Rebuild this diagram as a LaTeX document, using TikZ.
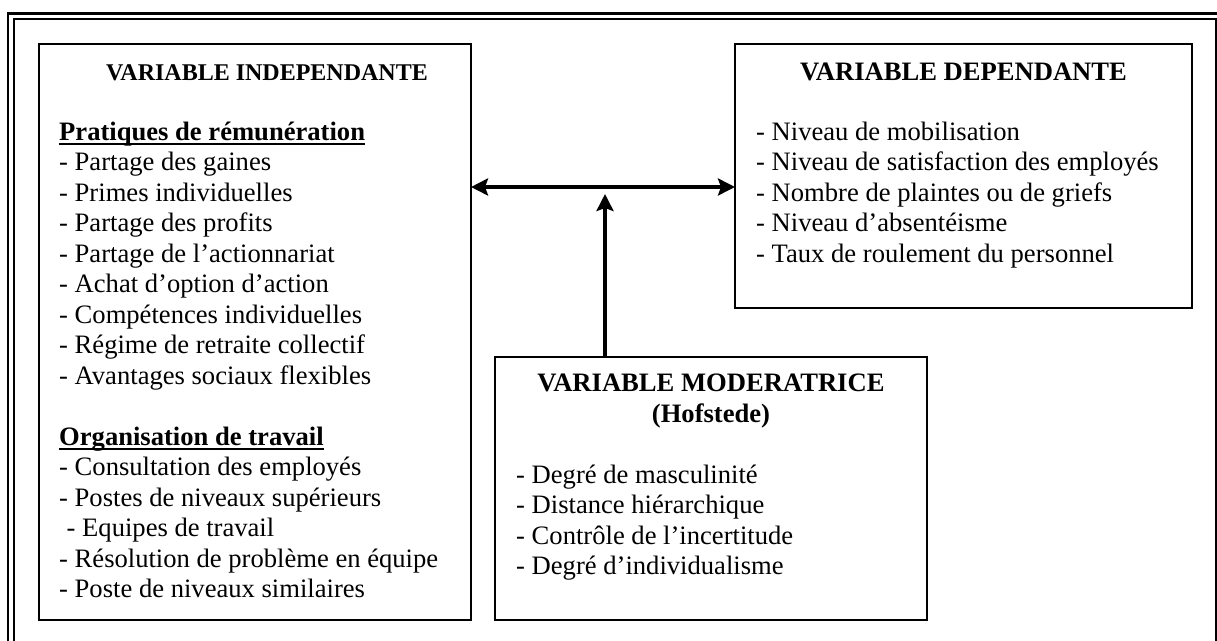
\documentclass[tikz,border=0pt]{standalone}
\usepackage{fontspec}
\setmainfont{Liberation Serif}
\usetikzlibrary{arrows.meta}
\newcommand{\ulx}[1]{\setbox0\hbox{#1}\rlap{\rule[-5pt]{\wd0}{1.8pt}}\box0}
\begin{document}
\begin{tikzpicture}[x=1pt,y=-1pt,
  box/.style={draw, line width=1.6pt, inner sep=0pt, outer sep=0pt, anchor=north west},
  ln/.style={anchor=base west, inner sep=0pt, font=\fontsize{26.6}{30.5}\selectfont},
  ttl/.style={anchor=base, inner sep=0pt, font=\fontsize{26.6}{30.5}\selectfont\bfseries},
  conn/.style={line width=4.5pt}]
\useasboundingbox (0,0) rectangle (1217,640);
\begin{scope}
\clip (0,0) rectangle (1217,640);
\draw[line width=2.2pt] (8,13.5) rectangle (1221,660);
\draw[line width=2pt] (13.5,18.5) rectangle (1215.5,655);
\end{scope}
% boxes
\node[box, minimum width=432pt, minimum height=576pt] (ind) at (39,44) {};
\node[box, minimum width=457pt, minimum height=264pt] (dep) at (735,44) {};
\node[box, minimum width=432pt, minimum height=263pt] (mod) at (495,357) {};
% independent variable
\node[ttl, font=\fontsize{24}{30.5}\selectfont\bfseries] (it) at (267,80) {VARIABLE INDEPENDANTE};
\node[ln] (i0) at (59,140) {\bfseries\ulx{Pratiques de rémunération}};
\node[ln] (i1) at (59,170.5) {- Partage des gaines};
\node[ln] (i2) at (59,201) {- Primes individuelles};
\node[ln] (i3) at (59,231.5) {- Partage des profits};
\node[ln] (i4) at (59,262) {- Partage de l’actionnariat};
\node[ln] (i5) at (59,292.5) {- Achat d’option d’action};
\node[ln] (i6) at (59,323) {- Compétences individuelles};
\node[ln] (i7) at (59,353.5) {- Régime de retraite collectif};
\node[ln] (i8) at (59,384) {- Avantages sociaux flexibles};
\node[ln] (i10) at (59,445) {\bfseries\ulx{Organisation de travail}};
\node[ln] (i11) at (59,475.5) {- Consultation des employés};
\node[ln] (i12) at (59,506) {- Postes de niveaux supérieurs};
\node[ln] (i13) at (66.5,536.5) {- Equipes de travail};
\node[ln] (i14) at (59,567) {- Résolution de problème en équipe};
\node[ln] (i15) at (59,597.5) {- Poste de niveaux similaires};
% dependent variable
\node[ttl] (dt) at (963.5,80) {VARIABLE DEPENDANTE};
\node[ln] (d1) at (756,140) {- Niveau de mobilisation};
\node[ln] (d2) at (756,170.5) {- Niveau de satisfaction des employés};
\node[ln] (d3) at (756,201) {- Nombre de plaintes ou de griefs};
\node[ln] (d4) at (756,231.5) {- Niveau d’absentéisme};
\node[ln] (d5) at (756,262) {- Taux de roulement du personnel};
% moderator
\node[ttl] (mt) at (711,391.7) {VARIABLE MODERATRICE};
\node[ttl] (mh) at (711,422.2) {(Hofstede)};
\node[ln] (m1) at (516,483) {- Degré de masculinité};
\node[ln] (m2) at (516,513.5) {- Distance hiérarchique};
\node[ln] (m3) at (516,544) {- Contrôle de l’incertitude};
\node[ln] (m4) at (516,574.5) {- Degré d’individualisme};
% connectors
\coordinate (hy) at (0,187);
\coordinate (vt) at (605,194);
\draw[conn, {Stealth[length=17pt,width=17pt,inset=3pt]}-{Stealth[length=17pt,width=17pt,inset=3pt]}] (ind.east |- hy) -- (dep.west |- hy);
\draw[conn, -{Stealth[length=17pt,width=17pt,inset=3pt]}] (vt |- mod.north) -- (vt);
\end{tikzpicture}
\end{document}
